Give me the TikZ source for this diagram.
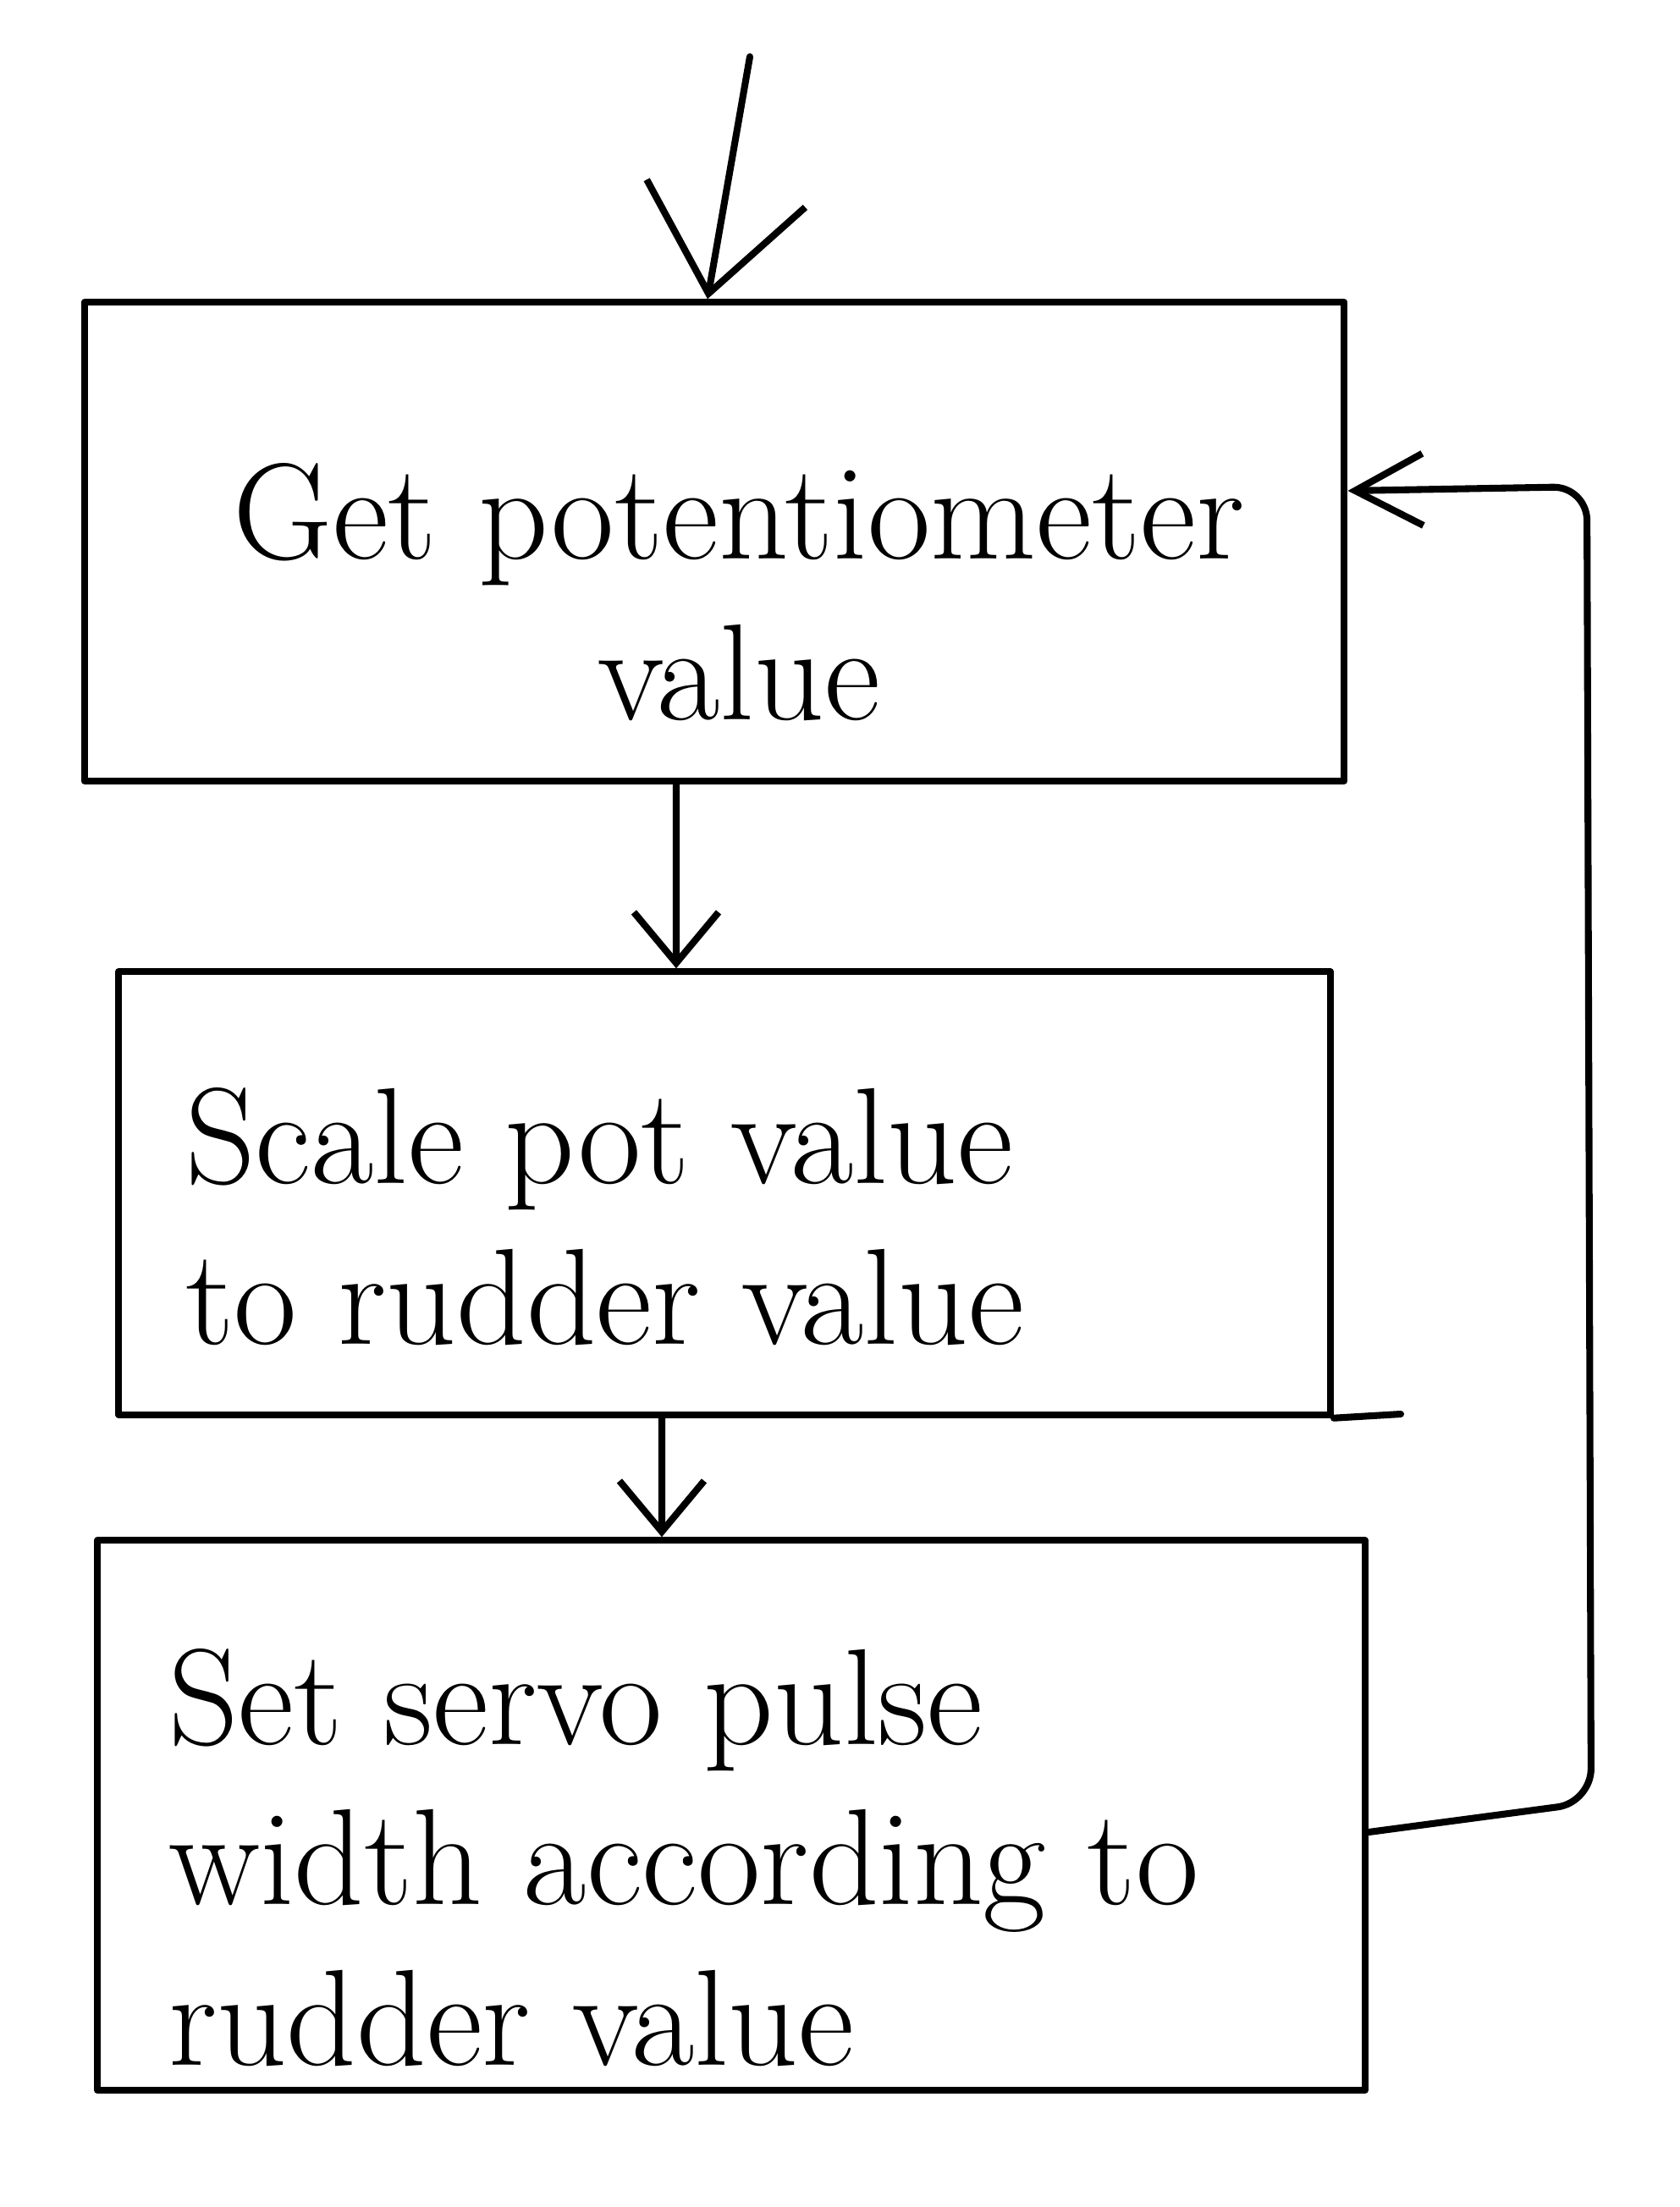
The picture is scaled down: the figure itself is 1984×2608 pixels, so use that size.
\documentclass[tikz,border=0pt]{standalone}
\usetikzlibrary{arrows.meta}
\begin{document}
\begin{tikzpicture}[x=0.01cm,y=-0.01cm,
  line width=2.3pt, line join=round, line cap=round,
  boxstyle/.style={draw, rectangle, inner sep=0pt},
  txtstyle/.style={font=\fontsize{46}{54}\selectfont, inner sep=0pt},
  bigbarb/.style={-{Straight Barb[length=1.2cm,width=1.9cm,line width=2.3pt]}},
  smallbarb/.style={-{Straight Barb[length=0.6cm,width=1.0cm,line width=2.3pt]}},
  midbarb/.style={-{Straight Barb[length=0.8cm,width=0.85cm,line width=2.3pt]}}]
\useasboundingbox (0,0) rectangle (1984,2608);
% boxes
\node[boxstyle, minimum width=14.88cm, minimum height=5.65cm] (b1) at (844,640) {};
\node[boxstyle, minimum width=14.31cm, minimum height=5.23cm] (b2) at (856,1410) {};
\node[boxstyle, minimum width=14.97cm, minimum height=6.49cm] (b3) at (864,2145) {};
% texts
\node[txtstyle, align=center] (t1) at (873,700) {Get potentiometer\\value};
\node[txtstyle, align=left, anchor=west] (t2) at (215,1438) {Scale pot value\\to rudder value};
\node[txtstyle, align=left, anchor=west] (t3) at (195,2195) {Set servo pulse\\width according to\\rudder value};
% extra stroke at box 2
\coordinate (ext) at (1655,1671);
\draw (b2.south east) -- (ext);
% entry arrow
\coordinate (start) at (886,67);
\draw[bigbarb] (start) -- ([xshift=-0.08cm]b1.north);
% flow arrows
\draw[smallbarb] ([xshift=-0.45cm]b1.south) -- ([xshift=-0.57cm]b2.north);
\draw[smallbarb] ([xshift=-0.74cm]b2.south) -- ([xshift=-0.82cm]b3.north);
% feedback loop
\coordinate (fb1) at (1880,2130);
\coordinate (fb2) at (1875,575);
\draw[midbarb, rounded corners=0.4cm] ([yshift=-0.2cm]b3.east) -- (fb1) -- (fb2) -- ([yshift=0.6cm]b1.east);
\end{tikzpicture}
\end{document}
